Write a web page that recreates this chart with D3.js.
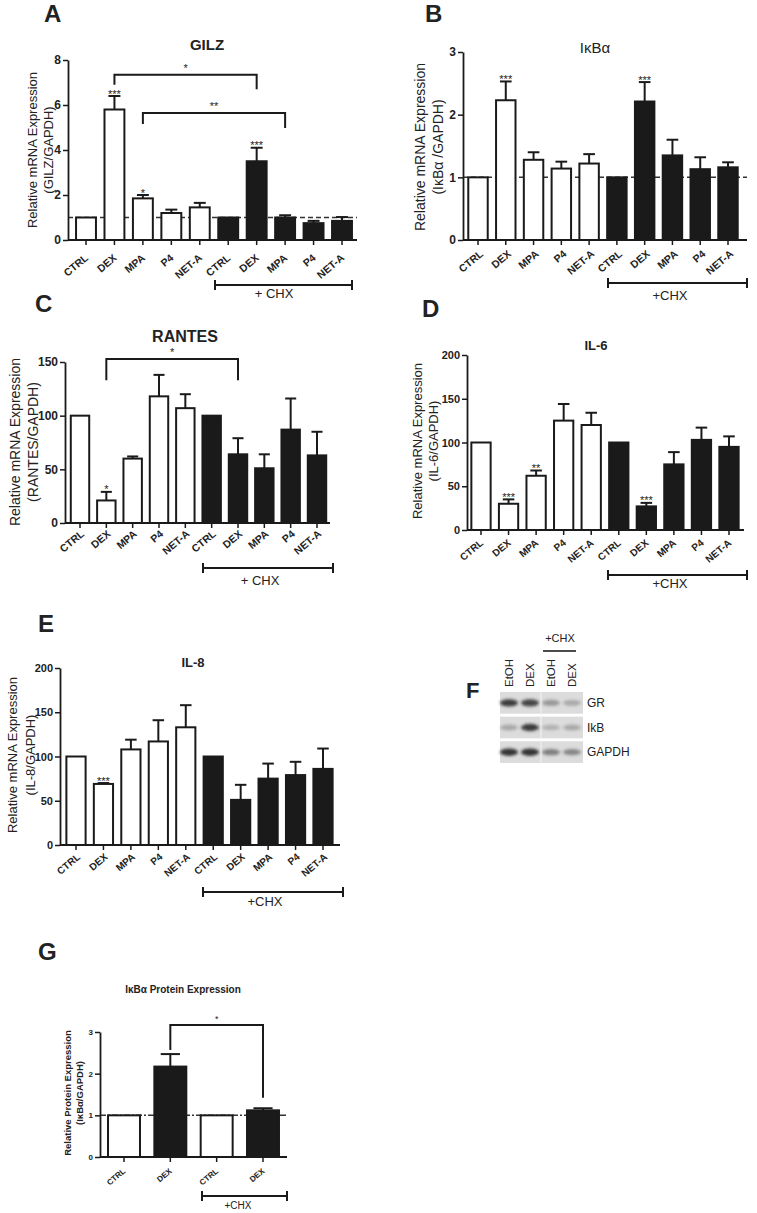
<!DOCTYPE html>
<html><head><meta charset="utf-8">
<script src="https://cdn.jsdelivr.net/npm/d3@7"></script>
<style>body{margin:0;background:#fff}svg{display:block}text{font-family:"Liberation Sans",Arial,sans-serif;fill:#222}</style>
</head><body><svg id="c" width="757" height="1213"></svg>
<script>
// ---------------- DATA ----------------
const categories = ["CTRL","DEX","MPA","P4","NET-A","CTRL","DEX","MPA","P4","NET-A"];
const chxGroup = [0,0,0,0,0,1,1,1,1,1];

const gilzMean  = [1,5.8,1.85,1.2,1.45,1,3.5,1.0,0.75,0.85];
const gilzErr   = [0,0.6,0.15,0.15,0.2,0,0.6,0.1,0.1,0.17];
const gilzStars = ["","***","*","","","","***","","",""];
const gilzTicks = [0,2,4,6,8];
const gilzBrackets = [{a:1,b:6,top:7.35,la:6.9,lb:6.7,label:"*"},{a:2,b:7,top:5.64,la:5.16,lb:4.98,label:"**"}];

const ikbMean  = [1,2.23,1.28,1.14,1.22,1,2.21,1.35,1.13,1.16];
const ikbErr   = [0,0.3,0.12,0.11,0.15,0,0.31,0.25,0.19,0.08];
const ikbStars = ["","***","","","","","***","","",""];
const ikbTicks = [0,1,2,3];

const rantesMean  = [100,21,60,118,107,100,64,51,87,63];
const rantesErr   = [0,8,2,20,13,0,15,13,29,22];
const rantesStars = ["","*","","","","","","","",""];
const rantesTicks = [0,50,100,150];
const rantesBrackets = [{a:1,b:6,top:152.8,la:133,lb:133,label:"*"}];

const il6Mean  = [100,30,62,125,120,100,27,75,103,95];
const il6Err   = [0,5,6,19,14,0,4,14,14,12];
const il6Stars = ["","***","**","","","","***","","",""];
const il6Ticks = [0,50,100,150,200];

const il8Mean  = [100,69,108,117,133,100,51,75,79,86];
const il8Err   = [0,1,11,24,25,0,17,17,15,23];
const il8Stars = ["","***","","","","","","","",""];
const il8Ticks = [0,50,100,150,200];

const proteinCats  = ["CTRL","DEX","CTRL","DEX"];
const proteinDex   = [0,1,0,1];
const proteinMean  = [1,2.17,1,1.12];
const proteinErr   = [0,0.3,0,0.05];
const proteinStars = ["","","",""];
const proteinTicks = [0,1,2,3];
const proteinBrackets = [{a:1,b:3,top:3.17,la:2.57,lb:1.42,label:"*"}];

const blotLanes = ["EtOH","DEX","EtOH","DEX"];
const blotRows  = ["GR","IkB","GAPDH"];
const blotIntensity = [[0.9,0.85,0.35,0.25],[0.25,0.9,0.2,0.25],[0.95,0.95,0.5,0.45]];

// ---------------- DRAW ----------------
const svg = d3.select("#c");
const FONT = '"Liberation Sans",Arial,sans-serif';
const BLACK = "#1a1a1a";

function panel(cfg){
  const g = svg.append("g");
  const n = cfg.cats.length;
  const step = (cfg.c1 - cfg.c0)/(n-1);
  const x = d3.scaleBand().domain(d3.range(n))
     .range([cfg.c0 - step/2, cfg.c1 + step/2]).paddingInner(cfg.pad).paddingOuter(cfg.pad/2);
  const y = d3.scaleLinear().domain([0,cfg.ymax]).range([cfg.yb,cfg.yt]);

  if(cfg.refLine){
    g.append("line").attr("x1",cfg.axisX).attr("x2",cfg.axisEnd)
     .attr("y1",y(1)).attr("y2",y(1)).attr("stroke","#333").attr("stroke-width",1.5)
     .attr("stroke-dasharray",cfg.dash||"5,3");
  }
  const bw = x.bandwidth();
  g.selectAll("rect.bar").data(cfg.mean).join("rect")
    .attr("x",(d,i)=>x(i)).attr("y",d=>y(d)).attr("width",bw).attr("height",d=>y(0)-y(d))
    .attr("fill",(d,i)=>cfg.dark[i]?BLACK:"#fff").attr("stroke",BLACK).attr("stroke-width",2);
  const cap = bw*0.6;
  cfg.err.forEach((e,i)=>{
    if(!e) return;
    const cx = x(i)+bw/2, yt = y(cfg.mean[i]+e);
    g.append("line").attr("x1",cx).attr("x2",cx).attr("y1",y(cfg.mean[i])).attr("y2",yt)
      .attr("stroke",BLACK).attr("stroke-width",2);
    g.append("line").attr("x1",cx-cap/2).attr("x2",cx+cap/2).attr("y1",yt).attr("y2",yt)
      .attr("stroke",BLACK).attr("stroke-width",2);
  });
  cfg.stars.forEach((s,i)=>{
    if(!s) return;
    g.append("text").attr("x",x(i)+bw/2).attr("y",y(cfg.mean[i]+cfg.err[i])+1.5)
     .attr("text-anchor","middle").attr("font-size",cfg.starSize||11).text(s);
  });
  const ya = g.append("g").attr("transform",`translate(${cfg.axisX},0)`)
    .call(d3.axisLeft(y).tickValues(cfg.ticks).tickFormat(d3.format("d")).tickSize(5).tickSizeOuter(0).tickPadding(2));
  ya.select(".domain").attr("stroke",BLACK).attr("stroke-width",1.8);
  ya.selectAll(".tick line").attr("stroke",BLACK).attr("stroke-width",1.5);
  ya.selectAll(".tick text").attr("font-family",FONT).attr("font-weight","bold")
    .attr("font-size",cfg.tickSize).attr("fill","#222");
  g.append("line").attr("x1",cfg.axisX).attr("x2",cfg.axisEnd).attr("y1",y(0)).attr("y2",y(0))
    .attr("stroke",BLACK).attr("stroke-width",1.8);
  const xa = g.append("g").attr("transform",`translate(0,${y(0)})`)
    .call(d3.axisBottom(x).tickSize(5).tickFormat(i=>cfg.cats[i]));
  xa.select(".domain").remove();
  xa.selectAll(".tick line").attr("stroke",BLACK).attr("stroke-width",1.5);
  xa.selectAll(".tick text").attr("font-family",FONT).attr("font-weight","bold")
    .attr("font-size",cfg.xTickSize).attr("fill","#222")
    .attr("text-anchor","end").attr("dy",null).attr("y",null)
    .attr("transform",`translate(${cfg.xlOff[0]},${cfg.xlOff[1]}) rotate(-40)`);
  (cfg.brackets||[]).forEach(b=>{
    const xa_ = x(b.a)+bw/2, xb_ = x(b.b)+bw/2;
    g.append("path").attr("d",`M${xa_},${y(b.la)}V${y(b.top)}H${xb_}V${y(b.lb)}`)
      .attr("fill","none").attr("stroke",BLACK).attr("stroke-width",2);
    g.append("text").attr("x",(xa_+xb_)/2).attr("y",y(b.top)-3).attr("text-anchor","middle")
      .attr("font-size",cfg.starSize||11).text(b.label);
  });
  cfg.ylab.forEach((t,k)=>{
    g.append("text").attr("transform",`translate(${cfg.ylabX[k]},${cfg.ylabY}) rotate(-90)`)
      .attr("text-anchor","middle").attr("dy","0.35em").attr("font-size",cfg.ylabSize)
      .attr("font-weight",cfg.ylabWeight||"normal").text(t);
  });
  g.append("text").attr("x",cfg.title[1]).attr("y",cfg.title[2]).attr("text-anchor","middle")
    .attr("font-size",cfg.titleSize).attr("font-weight",cfg.titleWeight||"bold").text(cfg.title[0]);
  const [cx0,cx1,cy] = cfg.chx;
  g.append("path").attr("d",`M${cx0},${cy-5}V${cy+5}M${cx0},${cy}H${cx1}M${cx1},${cy-5}V${cy+5}`)
    .attr("stroke",BLACK).attr("stroke-width",2).attr("fill","none");
  g.append("text").attr("x",cfg.chxText[1]).attr("y",cfg.chxText[2]).attr("text-anchor","middle")
    .attr("font-size",cfg.chxSize||13).text(cfg.chxText[0]);
  g.append("text").attr("x",cfg.letter[1]).attr("y",cfg.letter[2]).attr("font-size",24)
    .attr("font-weight","bold").attr("fill","#000").text(cfg.letter[0]);
}

panel({cats:categories,dark:chxGroup,mean:gilzMean,err:gilzErr,stars:gilzStars,ticks:gilzTicks,
  brackets:gilzBrackets,ymax:8,yb:240,yt:60,axisX:68,axisEnd:357,c0:86,c1:342,pad:0.3,refLine:true,
  tickSize:12,xTickSize:10.5,xlOff:[3,19],ylab:["Relative mRNA Expression","(GILZ/GAPDH)"],ylabX:[32,48],ylabY:150,ylabSize:13,
  title:["GILZ",207,50],titleSize:15,chx:[215,352,285],chxText:["+ CHX",274,298],letter:["A",44,22]});

panel({cats:categories,dark:chxGroup,mean:ikbMean,err:ikbErr,stars:ikbStars,ticks:ikbTicks,
  ymax:3,yb:240,yt:52,axisX:463,axisEnd:747,c0:478,c1:728,pad:0.3,refLine:true,
  tickSize:12,xTickSize:10.5,xlOff:[6,15],ylab:["Relative mRNA Expression","(I\u03baB\u03b1 /GAPDH)"],ylabX:[420,438],ylabY:147,ylabSize:14,
  title:["I\u03baB\u03b1",595,53],titleSize:15,titleWeight:"normal",chx:[608,747,283],chxText:["+CHX",670,300],letter:["B",425,22]});

panel({cats:categories,dark:chxGroup,mean:rantesMean,err:rantesErr,stars:rantesStars,ticks:rantesTicks,
  brackets:rantesBrackets,ymax:150,yb:523,yt:362,axisX:65,axisEnd:330,c0:80,c1:317,pad:0.3,
  tickSize:12,xTickSize:10.5,xlOff:[5,12],ylab:["Relative mRNA Expression","(RANTES/GAPDH)"],ylabX:[15,33],ylabY:442,ylabSize:14,
  title:["RANTES",185,342],titleSize:16,chx:[203,333,568],chxText:["+ CHX",260,585],letter:["C",35,312]});

panel({cats:categories,dark:chxGroup,mean:il6Mean,err:il6Err,stars:il6Stars,ticks:il6Ticks,
  ymax:200,yb:530,yt:355,axisX:467,axisEnd:744,c0:481,c1:729,pad:0.3,
  tickSize:11,xTickSize:10,xlOff:[3,14],ylab:["Relative mRNA Expression","(IL-6/GAPDH)"],ylabX:[417,433],ylabY:441,ylabSize:13,
  title:["IL-6",596,350],titleSize:13,chx:[608,747,575],chxText:["+CHX",670,588],letter:["D",422,317]});

panel({cats:categories,dark:chxGroup,mean:il8Mean,err:il8Err,stars:il8Stars,ticks:il8Ticks,
  ymax:200,yb:845,yt:668,axisX:60,axisEnd:340,c0:76,c1:323,pad:0.3,
  tickSize:11,xTickSize:10,xlOff:[5,13],ylab:["Relative mRNA Expression","(IL-8/GAPDH)"],ylabX:[12,30],ylabY:755,ylabSize:13,
  title:["IL-8",193,667],titleSize:13,chx:[203,343,892],chxText:["+CHX",265,906],letter:["E",38,632]});

panel({cats:proteinCats,dark:proteinDex,mean:proteinMean,err:proteinErr,stars:proteinStars,ticks:proteinTicks,
  brackets:proteinBrackets,ymax:3,yb:1157,yt:1032,axisX:100,axisEnd:287,c0:124,c1:263,pad:0.31,refLine:true,dash:"6,2,2,2",
  tickSize:8,xTickSize:8,xlOff:[2,15],starSize:9,ylab:["Relative Protein Expression","(I\u03baB\u03b1/GAPDH)"],ylabX:[68,80],ylabY:1093,ylabSize:9.5,ylabWeight:"bold",
  title:["I\u03baB\u03b1 Protein Expression",183,993],titleSize:10,chx:[202,287,1196],chxText:["+CHX",238,1209],chxSize:10,letter:["G",38,960]});

// ---------------- Western blot (F) ----------------
(function(){
  const g = svg.append("g");
  const defs = svg.append("defs");
  defs.append("filter").attr("id","blur").attr("x","-50%").attr("y","-50%").attr("width","200%").attr("height","200%")
    .append("feGaussianBlur").attr("stdDeviation",1.4);
  const lx = d3.scalePoint().domain(d3.range(blotLanes.length)).range([509,572]);
  const ry = d3.scaleBand().domain(d3.range(blotRows.length)).range([692,763]).paddingInner(0.12);
  const op = d3.scaleLinear().domain([0,1]).range([0.05,0.95]);
  blotRows.forEach((r,ri)=>{
    g.append("rect").attr("x",500).attr("y",ry(ri)).attr("width",83).attr("height",ry.bandwidth())
      .attr("fill","#dcdcdc");
    blotIntensity[ri].forEach((v,li)=>{
      g.append("ellipse").attr("cx",lx(li)).attr("cy",ry(ri)+ry.bandwidth()/2)
        .attr("rx",9).attr("ry",2.6+1.2*v).attr("fill","#222").attr("opacity",op(v))
        .attr("filter","url(#blur)");
    });
    g.append("text").attr("x",587).attr("y",ry(ri)+ry.bandwidth()/2).attr("dy","0.35em")
      .attr("font-size",12).text(r);
  });
  g.append("line").attr("x1",541).attr("x2",541).attr("y1",692).attr("y2",763).attr("stroke","#f4f4f4").attr("stroke-width",1);
  blotLanes.forEach((l,li)=>{
    g.append("text").attr("transform",`translate(${lx(li)},687) rotate(-90)`).attr("dy","0.35em")
      .attr("font-size",11.5).text(l);
  });
  g.append("line").attr("x1",543).attr("x2",576).attr("y1",651).attr("y2",651).attr("stroke","#111").attr("stroke-width",1.5);
  g.append("text").attr("x",560).attr("y",642).attr("text-anchor","middle").attr("font-size",11).text("+CHX");
  g.append("text").attr("x",466).attr("y",698).attr("font-size",22).attr("font-weight","bold").attr("fill","#000").text("F");
})();
</script></body></html>
